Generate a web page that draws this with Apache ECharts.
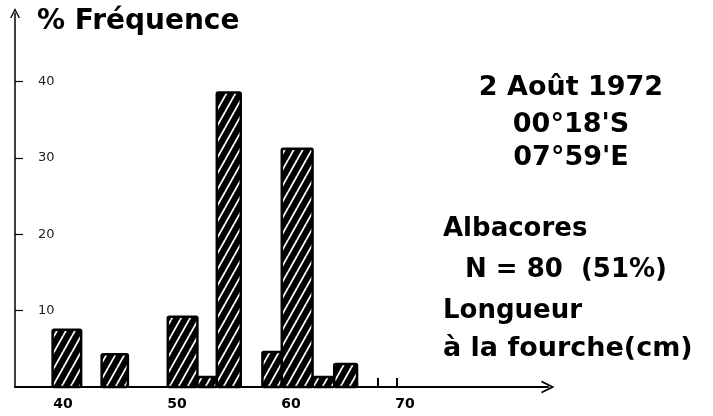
<!DOCTYPE html>
<html>
<head>
<meta charset="utf-8">
<title>Fréquence - Albacores</title>
<script src="https://cdn.jsdelivr.net/npm/echarts@6/dist/echarts.min.js"></script>
<style>
html, body { margin: 0; padding: 0; background: #fff; }
#main { width: 713px; height: 416px; }
</style>
</head>
<body>
<div id="main"></div>
<script>
// classes de longueur (cm) et fréquence (%)
var binStart = [39.1, 43.4, 49.2, 51.8, 53.5, 57.5, 59.2, 61.9, 63.8];
var binEnd   = [41.6, 45.7, 51.8, 53.5, 55.6, 59.2, 61.9, 63.8, 65.8];
var freq     = [7.5, 4.3, 9.2, 1.3, 38.6, 4.6, 31.2, 1.3, 3.0];
var xLabels  = [40, 50, 60, 70];
var yLabels  = [10, 20, 30, 40];
var emptyMarks = [67.6, 69.3];   // petits traits sans effectif

var font = '"DejaVu Sans", sans-serif';

// hachures blanches sur fond noir
function makeHatch() {
  var w = 9, h = 16;
  var c = document.createElement('canvas');
  c.width = w; c.height = h;
  var ctx = c.getContext('2d');
  ctx.fillStyle = '#000';
  ctx.fillRect(0, 0, w, h);
  ctx.strokeStyle = '#fff';
  ctx.lineWidth = 1.8;
  for (var k = -1; k <= 1; k++) {
    ctx.beginPath();
    ctx.moveTo(k * w, h);
    ctx.lineTo(k * w + w, 0);
    ctx.stroke();
  }
  return { image: c, repeat: 'repeat' };
}
var hatch = makeHatch();

var bars = [];
for (var i = 0; i < freq.length; i++) {
  bars.push([binStart[i], binEnd[i], freq[i]]);
}

var arrow = 'path://M0,10 L5,0 L10,10 L8.5,10 L5,2.8 L1.5,10 Z';

var myChart = echarts.init(document.getElementById('main'));
myChart.setOption({
  backgroundColor: '#fff',
  animation: false,
  grid: { left: 15, right: 165, top: 13, bottom: 29 },
  xAxis: {
    type: 'value',
    min: 35.8,
    max: 82.55,
    splitLine: { show: false },
    axisLine: {
      lineStyle: { color: '#000', width: 2 },
      symbol: ['none', arrow],
      symbolSize: [13, 14]
    },
    axisTick: {
      show: true,
      inside: true,
      length: 9,
      customValues: emptyMarks,
      lineStyle: { color: '#000', width: 2 }
    },
    axisLabel: {
      customValues: xLabels,
      margin: 10,
      color: '#000',
      fontSize: 14,
      fontWeight: 'bold',
      fontFamily: font
    }
  },
  yAxis: {
    type: 'value',
    min: 0,
    max: 49,
    splitLine: { show: false },
    axisLine: {
      lineStyle: { color: '#000', width: 1.5 },
      symbol: ['none', arrow],
      symbolSize: [10, 13]
    },
    axisTick: {
      show: true,
      inside: true,
      length: 8,
      customValues: yLabels,
      lineStyle: { color: '#000', width: 1.2 }
    },
    axisLabel: {
      inside: true,
      customValues: yLabels,
      margin: 23,
      color: '#222',
      fontSize: 13,
      fontFamily: font
    }
  },
  series: [{
    type: 'custom',
    data: bars,
    encode: { x: [0, 1], y: 2 },
    renderItem: function (params, api) {
      var p0 = api.coord([api.value(0), api.value(2)]);
      var p1 = api.coord([api.value(1), 0]);
      return {
        type: 'rect',
        shape: { x: p0[0], y: p0[1], width: p1[0] - p0[0], height: p1[1] - p0[1], r: 1.5 },
        style: { fill: hatch, stroke: '#000', lineWidth: 2.5 }
      };
    }
  }],
  graphic: [
    { type: 'text', x: 37, y: 22,
      style: { text: '% Fréquence', font: 'bold 28px ' + font, fill: '#000', verticalAlign: 'middle' } },
    { type: 'text', x: 571, y: 88,
      style: { text: '2 Août 1972', font: 'bold 27px ' + font, fill: '#000', align: 'center', verticalAlign: 'middle' } },
    { type: 'text', x: 571, y: 125,
      style: { text: "00°18'S", font: 'bold 27px ' + font, fill: '#000', align: 'center', verticalAlign: 'middle' } },
    { type: 'text', x: 571, y: 158,
      style: { text: "07°59'E", font: 'bold 27px ' + font, fill: '#000', align: 'center', verticalAlign: 'middle' } },
    { type: 'text', x: 443, y: 229,
      style: { text: 'Albacores', font: 'bold 26px ' + font, fill: '#000', verticalAlign: 'middle' } },
    { type: 'text', x: 465, y: 270,
      style: { text: 'N = 80  (51%)', font: 'bold 26px ' + font, fill: '#000', verticalAlign: 'middle' } },
    { type: 'text', x: 443, y: 311,
      style: { text: 'Longueur', font: 'bold 26px ' + font, fill: '#000', verticalAlign: 'middle' } },
    { type: 'text', x: 443, y: 349,
      style: { text: 'à la fourche(cm)', font: 'bold 27px ' + font, fill: '#000', verticalAlign: 'middle' } }
  ]
});
</script>
</body>
</html>
